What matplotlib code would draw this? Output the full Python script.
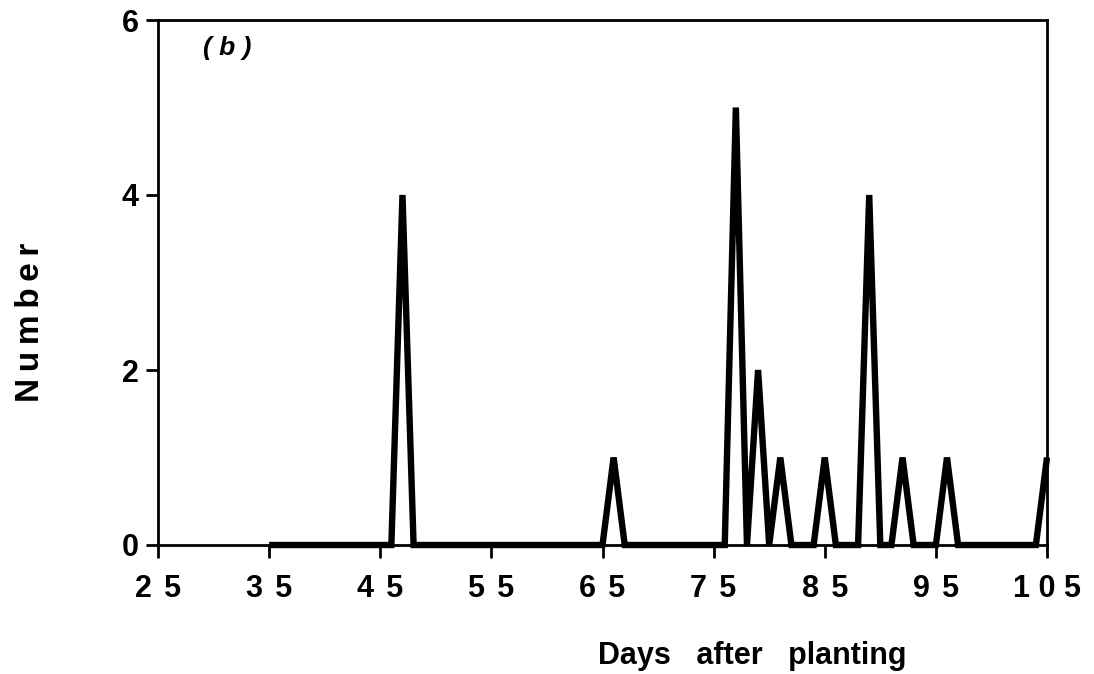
import matplotlib
matplotlib.use("Agg")
import matplotlib.pyplot as plt

days = [35, 46, 47, 48, 65, 66, 67, 76, 77, 78, 79, 80, 81, 82, 84, 85, 86,
        88, 89, 90, 91, 92, 93, 95, 96, 97, 104, 105]
counts = [0, 0, 4, 0, 0, 1, 0, 0, 5, 0, 2, 0, 1, 0, 0, 1, 0,
          0, 4, 0, 0, 1, 0, 0, 1, 0, 0, 1]
xticks = [25, 35, 45, 55, 65, 75, 85, 95, 105]
xticklabels = ["2\u2009\u20095", "3\u2009\u20095", "4\u2009\u20095", "5\u2009\u20095",
               "6\u2009\u20095", "7\u2009\u20095", "8\u2009\u20095", "9\u2009\u20095",
               "1 0 5"]
yticks = [0, 2, 4, 6]
yticklabels = ["0", "2", "4", "6"]

plt.rcParams['font.family'] = ['Liberation Sans', 'DejaVu Sans']

W, H = 1094, 674
fig = plt.figure(figsize=(W/100, H/100), dpi=100)
ax = fig.add_axes([158/W, 1-545/H, (1047-158)/W, (545-20)/H])

ax.plot(days, counts, color='black', linewidth=4.6, solid_joinstyle='miter',
        solid_capstyle='butt', clip_on=False, zorder=3)

ax.set_xlim(25, 105)
ax.set_ylim(0, 6)
ax.set_xticks(xticks)
ax.set_xticklabels(xticklabels, fontsize=22, fontweight='bold')
ax.set_yticks(yticks)
ax.set_yticklabels(yticklabels, fontsize=22, fontweight='bold')
ax.tick_params(axis='both', direction='out', length=9, width=2, color='black')
ax.tick_params(axis='x', pad=12)
ax.tick_params(axis='y', pad=5)
for s in ax.spines.values():
    s.set_linewidth(2)
    s.set_color('black')

fig.text(752/W, 1-656/H, "Days   after   planting", fontsize=22, fontweight='bold',
         ha='center', va='center')
fig.text(31/W, 1-322/H, "N\u2009u\u2009m\u2009b\u2009e\u2009r", fontsize=24,
         fontweight='bold', rotation=90, ha='center', va='center')

ax.text(31.2, 5.68, "( b )", fontsize=19, fontweight='bold', fontstyle='italic',
        ha='center', va='center')

fig.savefig("out.png", dpi=100)
